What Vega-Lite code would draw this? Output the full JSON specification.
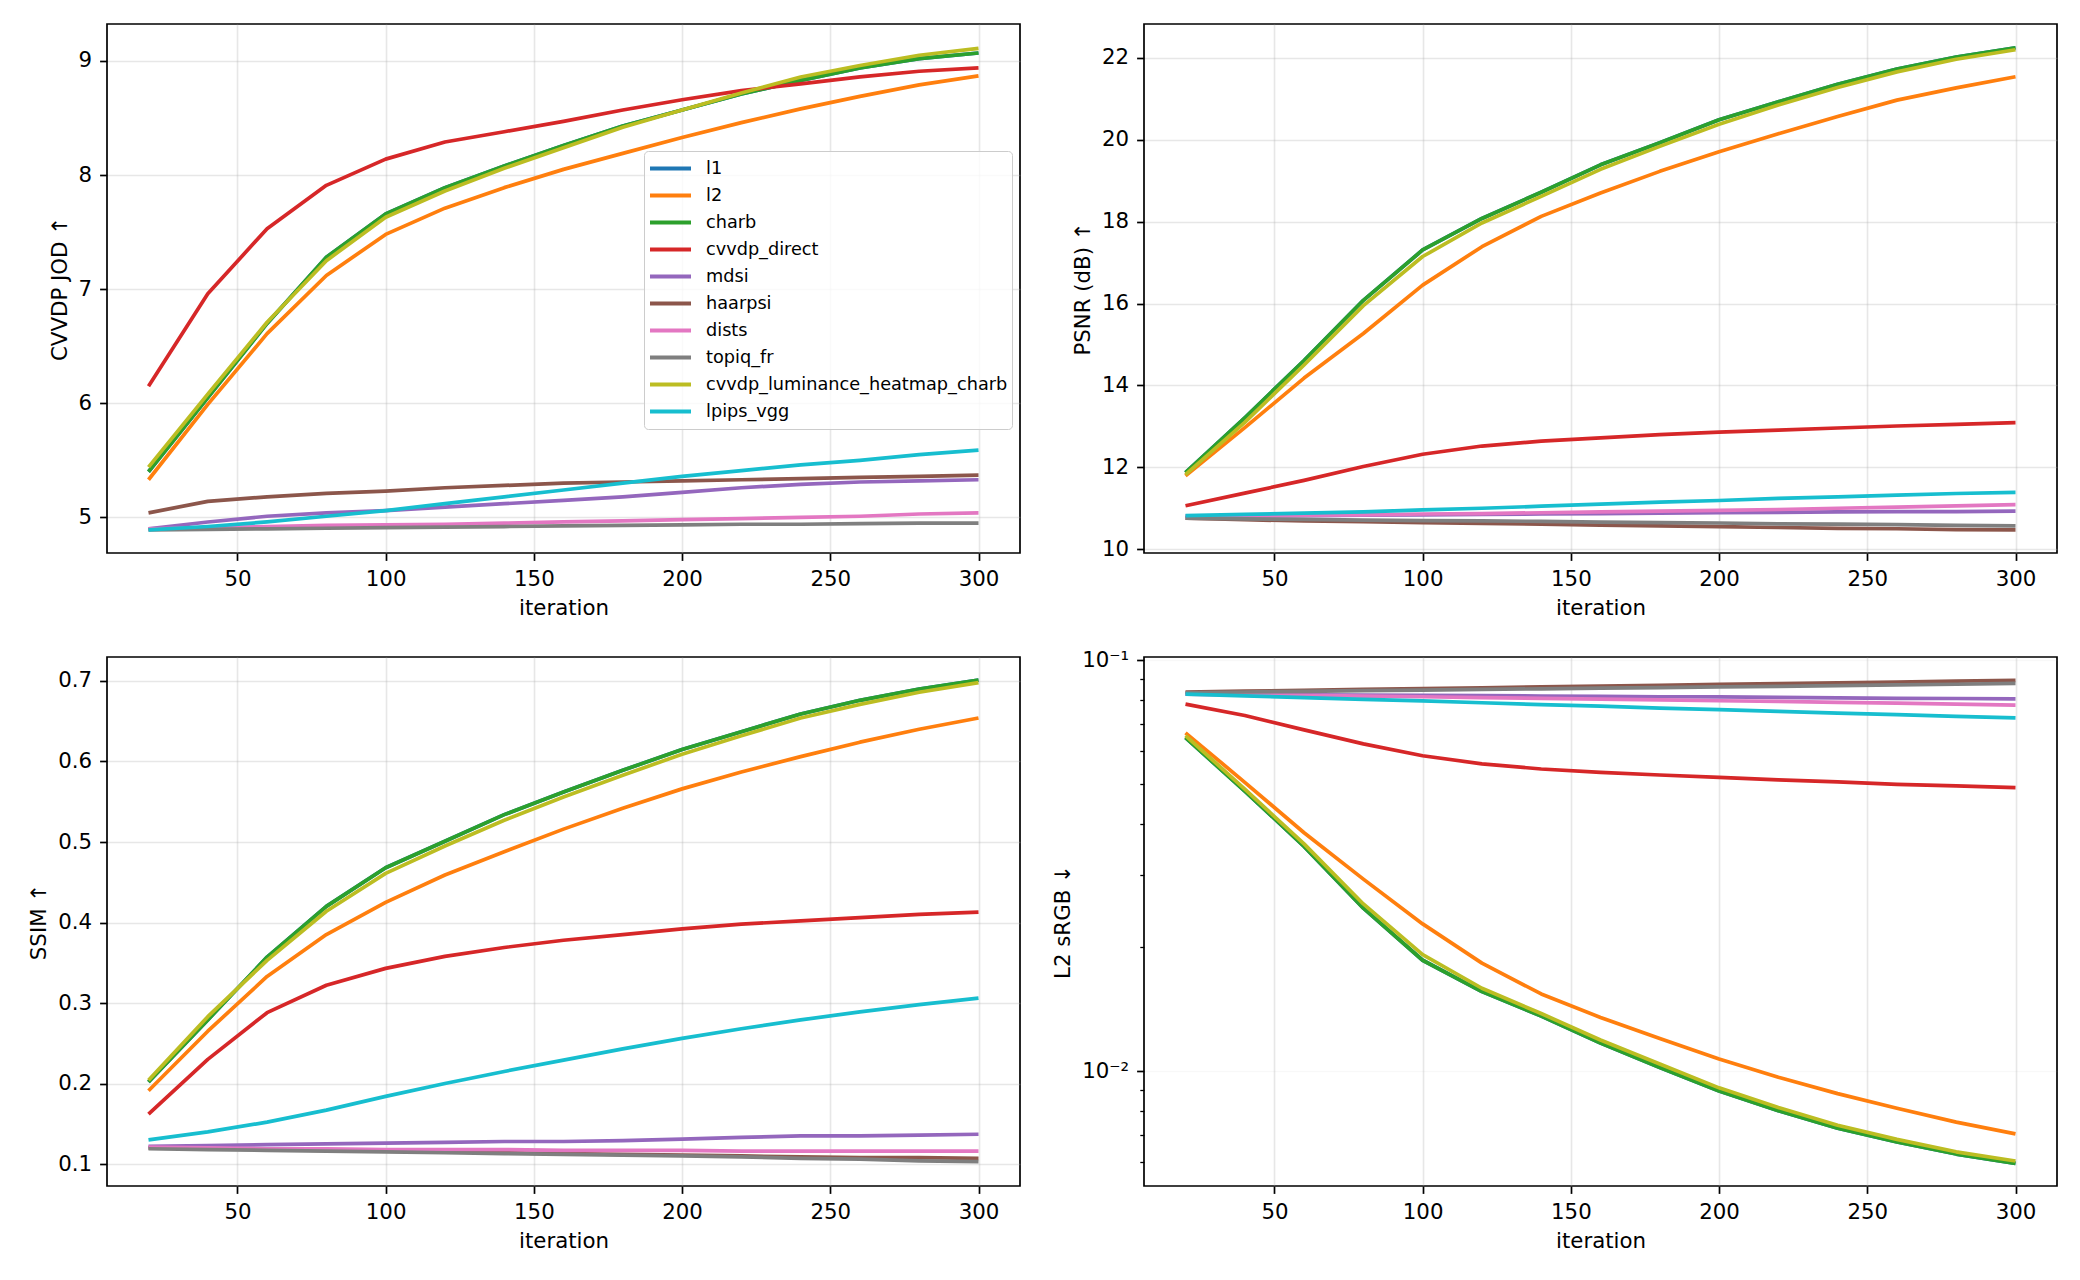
{
  "$schema": "https://vega.github.io/schema/vega-lite/v6.json",
  "background": "white",
  "padding": {"left": 27, "top": 23, "right": 10, "bottom": 10},
  "bounds": "flush",
  "columns": 2,
  "spacing": {"row": 104, "column": 124},
  "datasets": {
    "runs": [
      {"method":"l1","iteration":20,"jod":5.40,"psnr":11.87,"ssim":0.202,"l2":0.0647},
      {"method":"l1","iteration":40,"jod":6.05,"psnr":13.21,"ssim":0.279,"l2":0.0480},
      {"method":"l1","iteration":60,"jod":6.70,"psnr":14.61,"ssim":0.357,"l2":0.0352},
      {"method":"l1","iteration":80,"jod":7.28,"psnr":16.08,"ssim":0.420,"l2":0.0249},
      {"method":"l1","iteration":100,"jod":7.66,"psnr":17.31,"ssim":0.468,"l2":0.0186},
      {"method":"l1","iteration":120,"jod":7.89,"psnr":18.08,"ssim":0.501,"l2":0.0156},
      {"method":"l1","iteration":140,"jod":8.08,"psnr":18.72,"ssim":0.534,"l2":0.0136},
      {"method":"l1","iteration":160,"jod":8.26,"psnr":19.39,"ssim":0.562,"l2":0.0117},
      {"method":"l1","iteration":180,"jod":8.43,"psnr":19.93,"ssim":0.589,"l2":0.0102},
      {"method":"l1","iteration":200,"jod":8.57,"psnr":20.49,"ssim":0.615,"l2":0.00894},
      {"method":"l1","iteration":220,"jod":8.71,"psnr":20.93,"ssim":0.637,"l2":0.00801},
      {"method":"l1","iteration":240,"jod":8.83,"psnr":21.36,"ssim":0.659,"l2":0.00726},
      {"method":"l1","iteration":260,"jod":8.94,"psnr":21.73,"ssim":0.676,"l2":0.00672},
      {"method":"l1","iteration":280,"jod":9.02,"psnr":22.02,"ssim":0.690,"l2":0.00628},
      {"method":"l1","iteration":300,"jod":9.07,"psnr":22.25,"ssim":0.701,"l2":0.00596},

      {"method":"l2","iteration":20,"jod":5.33,"psnr":11.79,"ssim":0.191,"l2":0.0665},
      {"method":"l2","iteration":40,"jod":5.99,"psnr":12.97,"ssim":0.265,"l2":0.0504},
      {"method":"l2","iteration":60,"jod":6.61,"psnr":14.18,"ssim":0.333,"l2":0.0380},
      {"method":"l2","iteration":80,"jod":7.12,"psnr":15.27,"ssim":0.385,"l2":0.0293},
      {"method":"l2","iteration":100,"jod":7.48,"psnr":16.45,"ssim":0.425,"l2":0.0228},
      {"method":"l2","iteration":120,"jod":7.71,"psnr":17.39,"ssim":0.459,"l2":0.0183},
      {"method":"l2","iteration":140,"jod":7.89,"psnr":18.13,"ssim":0.488,"l2":0.0154},
      {"method":"l2","iteration":160,"jod":8.05,"psnr":18.70,"ssim":0.516,"l2":0.0135},
      {"method":"l2","iteration":180,"jod":8.19,"psnr":19.23,"ssim":0.542,"l2":0.0120},
      {"method":"l2","iteration":200,"jod":8.33,"psnr":19.71,"ssim":0.566,"l2":0.0107},
      {"method":"l2","iteration":220,"jod":8.46,"psnr":20.15,"ssim":0.587,"l2":0.00966},
      {"method":"l2","iteration":240,"jod":8.58,"psnr":20.57,"ssim":0.606,"l2":0.00881},
      {"method":"l2","iteration":260,"jod":8.69,"psnr":20.97,"ssim":0.624,"l2":0.00812},
      {"method":"l2","iteration":280,"jod":8.79,"psnr":21.27,"ssim":0.640,"l2":0.00751},
      {"method":"l2","iteration":300,"jod":8.87,"psnr":21.54,"ssim":0.654,"l2":0.00703},

      {"method":"charb","iteration":20,"jod":5.40,"psnr":11.87,"ssim":0.202,"l2":0.0647},
      {"method":"charb","iteration":40,"jod":6.05,"psnr":13.21,"ssim":0.279,"l2":0.0480},
      {"method":"charb","iteration":60,"jod":6.70,"psnr":14.61,"ssim":0.357,"l2":0.0352},
      {"method":"charb","iteration":80,"jod":7.28,"psnr":16.08,"ssim":0.420,"l2":0.0249},
      {"method":"charb","iteration":100,"jod":7.66,"psnr":17.31,"ssim":0.468,"l2":0.0186},
      {"method":"charb","iteration":120,"jod":7.89,"psnr":18.08,"ssim":0.501,"l2":0.0156},
      {"method":"charb","iteration":140,"jod":8.08,"psnr":18.72,"ssim":0.534,"l2":0.0136},
      {"method":"charb","iteration":160,"jod":8.26,"psnr":19.39,"ssim":0.562,"l2":0.0117},
      {"method":"charb","iteration":180,"jod":8.43,"psnr":19.93,"ssim":0.589,"l2":0.0102},
      {"method":"charb","iteration":200,"jod":8.57,"psnr":20.49,"ssim":0.615,"l2":0.00894},
      {"method":"charb","iteration":220,"jod":8.71,"psnr":20.93,"ssim":0.637,"l2":0.00801},
      {"method":"charb","iteration":240,"jod":8.83,"psnr":21.36,"ssim":0.659,"l2":0.00726},
      {"method":"charb","iteration":260,"jod":8.94,"psnr":21.73,"ssim":0.676,"l2":0.00672},
      {"method":"charb","iteration":280,"jod":9.02,"psnr":22.02,"ssim":0.690,"l2":0.00628},
      {"method":"charb","iteration":300,"jod":9.07,"psnr":22.25,"ssim":0.701,"l2":0.00596},

      {"method":"cvvdp_direct","iteration":20,"jod":6.15,"psnr":11.06,"ssim":0.162,"l2":0.0781},
      {"method":"cvvdp_direct","iteration":40,"jod":6.96,"psnr":11.37,"ssim":0.230,"l2":0.0733},
      {"method":"cvvdp_direct","iteration":60,"jod":7.53,"psnr":11.68,"ssim":0.288,"l2":0.0676},
      {"method":"cvvdp_direct","iteration":80,"jod":7.91,"psnr":12.02,"ssim":0.322,"l2":0.0625},
      {"method":"cvvdp_direct","iteration":100,"jod":8.14,"psnr":12.32,"ssim":0.343,"l2":0.0585},
      {"method":"cvvdp_direct","iteration":120,"jod":8.29,"psnr":12.52,"ssim":0.358,"l2":0.0559},
      {"method":"cvvdp_direct","iteration":140,"jod":8.38,"psnr":12.64,"ssim":0.369,"l2":0.0543},
      {"method":"cvvdp_direct","iteration":160,"jod":8.47,"psnr":12.72,"ssim":0.378,"l2":0.0533},
      {"method":"cvvdp_direct","iteration":180,"jod":8.57,"psnr":12.80,"ssim":0.385,"l2":0.0525},
      {"method":"cvvdp_direct","iteration":200,"jod":8.66,"psnr":12.86,"ssim":0.392,"l2":0.0518},
      {"method":"cvvdp_direct","iteration":220,"jod":8.74,"psnr":12.91,"ssim":0.398,"l2":0.0511},
      {"method":"cvvdp_direct","iteration":240,"jod":8.80,"psnr":12.96,"ssim":0.402,"l2":0.0505},
      {"method":"cvvdp_direct","iteration":260,"jod":8.86,"psnr":13.01,"ssim":0.406,"l2":0.0498},
      {"method":"cvvdp_direct","iteration":280,"jod":8.91,"psnr":13.05,"ssim":0.410,"l2":0.0494},
      {"method":"cvvdp_direct","iteration":300,"jod":8.94,"psnr":13.09,"ssim":0.413,"l2":0.0489},

      {"method":"mdsi","iteration":20,"jod":4.90,"psnr":10.80,"ssim":0.122,"l2":0.0826},
      {"method":"mdsi","iteration":40,"jod":4.96,"psnr":10.81,"ssim":0.123,"l2":0.0825},
      {"method":"mdsi","iteration":60,"jod":5.01,"psnr":10.82,"ssim":0.124,"l2":0.0823},
      {"method":"mdsi","iteration":80,"jod":5.04,"psnr":10.83,"ssim":0.125,"l2":0.0822},
      {"method":"mdsi","iteration":100,"jod":5.06,"psnr":10.84,"ssim":0.126,"l2":0.0820},
      {"method":"mdsi","iteration":120,"jod":5.09,"psnr":10.85,"ssim":0.127,"l2":0.0819},
      {"method":"mdsi","iteration":140,"jod":5.12,"psnr":10.86,"ssim":0.128,"l2":0.0817},
      {"method":"mdsi","iteration":160,"jod":5.15,"psnr":10.87,"ssim":0.128,"l2":0.0816},
      {"method":"mdsi","iteration":180,"jod":5.18,"psnr":10.88,"ssim":0.129,"l2":0.0814},
      {"method":"mdsi","iteration":200,"jod":5.22,"psnr":10.89,"ssim":0.131,"l2":0.0813},
      {"method":"mdsi","iteration":220,"jod":5.26,"psnr":10.90,"ssim":0.133,"l2":0.0811},
      {"method":"mdsi","iteration":240,"jod":5.29,"psnr":10.91,"ssim":0.135,"l2":0.0809},
      {"method":"mdsi","iteration":260,"jod":5.31,"psnr":10.92,"ssim":0.135,"l2":0.0807},
      {"method":"mdsi","iteration":280,"jod":5.32,"psnr":10.92,"ssim":0.136,"l2":0.0806},
      {"method":"mdsi","iteration":300,"jod":5.33,"psnr":10.93,"ssim":0.137,"l2":0.0804},

      {"method":"haarpsi","iteration":20,"jod":5.04,"psnr":10.76,"ssim":0.120,"l2":0.0835},
      {"method":"haarpsi","iteration":40,"jod":5.14,"psnr":10.72,"ssim":0.119,"l2":0.0840},
      {"method":"haarpsi","iteration":60,"jod":5.18,"psnr":10.69,"ssim":0.118,"l2":0.0844},
      {"method":"haarpsi","iteration":80,"jod":5.21,"psnr":10.67,"ssim":0.117,"l2":0.0848},
      {"method":"haarpsi","iteration":100,"jod":5.23,"psnr":10.65,"ssim":0.116,"l2":0.0852},
      {"method":"haarpsi","iteration":120,"jod":5.26,"psnr":10.63,"ssim":0.115,"l2":0.0856},
      {"method":"haarpsi","iteration":140,"jod":5.28,"psnr":10.61,"ssim":0.114,"l2":0.0860},
      {"method":"haarpsi","iteration":160,"jod":5.30,"psnr":10.59,"ssim":0.113,"l2":0.0864},
      {"method":"haarpsi","iteration":180,"jod":5.31,"psnr":10.57,"ssim":0.112,"l2":0.0868},
      {"method":"haarpsi","iteration":200,"jod":5.32,"psnr":10.55,"ssim":0.111,"l2":0.0872},
      {"method":"haarpsi","iteration":220,"jod":5.33,"psnr":10.53,"ssim":0.110,"l2":0.0876},
      {"method":"haarpsi","iteration":240,"jod":5.34,"psnr":10.51,"ssim":0.109,"l2":0.0880},
      {"method":"haarpsi","iteration":260,"jod":5.35,"psnr":10.50,"ssim":0.108,"l2":0.0884},
      {"method":"haarpsi","iteration":280,"jod":5.36,"psnr":10.48,"ssim":0.108,"l2":0.0888},
      {"method":"haarpsi","iteration":300,"jod":5.37,"psnr":10.47,"ssim":0.107,"l2":0.0892},

      {"method":"dists","iteration":20,"jod":4.90,"psnr":10.80,"ssim":0.121,"l2":0.0826},
      {"method":"dists","iteration":40,"jod":4.91,"psnr":10.81,"ssim":0.120,"l2":0.0823},
      {"method":"dists","iteration":60,"jod":4.92,"psnr":10.83,"ssim":0.119,"l2":0.0820},
      {"method":"dists","iteration":80,"jod":4.93,"psnr":10.84,"ssim":0.119,"l2":0.0817},
      {"method":"dists","iteration":100,"jod":4.935,"psnr":10.86,"ssim":0.118,"l2":0.0814},
      {"method":"dists","iteration":120,"jod":4.94,"psnr":10.87,"ssim":0.118,"l2":0.0810},
      {"method":"dists","iteration":140,"jod":4.95,"psnr":10.89,"ssim":0.118,"l2":0.0807},
      {"method":"dists","iteration":160,"jod":4.96,"psnr":10.91,"ssim":0.117,"l2":0.0803},
      {"method":"dists","iteration":180,"jod":4.97,"psnr":10.93,"ssim":0.117,"l2":0.0800},
      {"method":"dists","iteration":200,"jod":4.98,"psnr":10.95,"ssim":0.117,"l2":0.0796},
      {"method":"dists","iteration":220,"jod":4.99,"psnr":10.97,"ssim":0.116,"l2":0.0793},
      {"method":"dists","iteration":240,"jod":5.00,"psnr":11.00,"ssim":0.116,"l2":0.0789},
      {"method":"dists","iteration":260,"jod":5.01,"psnr":11.03,"ssim":0.116,"l2":0.0785},
      {"method":"dists","iteration":280,"jod":5.03,"psnr":11.06,"ssim":0.116,"l2":0.0781},
      {"method":"dists","iteration":300,"jod":5.04,"psnr":11.09,"ssim":0.116,"l2":0.0777},

      {"method":"topiq_fr","iteration":20,"jod":4.89,"psnr":10.76,"ssim":0.119,"l2":0.0832},
      {"method":"topiq_fr","iteration":40,"jod":4.895,"psnr":10.74,"ssim":0.118,"l2":0.0836},
      {"method":"topiq_fr","iteration":60,"jod":4.90,"psnr":10.73,"ssim":0.117,"l2":0.0839},
      {"method":"topiq_fr","iteration":80,"jod":4.905,"psnr":10.71,"ssim":0.116,"l2":0.0842},
      {"method":"topiq_fr","iteration":100,"jod":4.91,"psnr":10.70,"ssim":0.115,"l2":0.0845},
      {"method":"topiq_fr","iteration":120,"jod":4.915,"psnr":10.69,"ssim":0.114,"l2":0.0848},
      {"method":"topiq_fr","iteration":140,"jod":4.92,"psnr":10.68,"ssim":0.113,"l2":0.0851},
      {"method":"topiq_fr","iteration":160,"jod":4.925,"psnr":10.66,"ssim":0.112,"l2":0.0854},
      {"method":"topiq_fr","iteration":180,"jod":4.93,"psnr":10.65,"ssim":0.111,"l2":0.0857},
      {"method":"topiq_fr","iteration":200,"jod":4.935,"psnr":10.64,"ssim":0.110,"l2":0.0860},
      {"method":"topiq_fr","iteration":220,"jod":4.94,"psnr":10.62,"ssim":0.109,"l2":0.0863},
      {"method":"topiq_fr","iteration":240,"jod":4.94,"psnr":10.61,"ssim":0.107,"l2":0.0866},
      {"method":"topiq_fr","iteration":260,"jod":4.945,"psnr":10.60,"ssim":0.106,"l2":0.0870},
      {"method":"topiq_fr","iteration":280,"jod":4.95,"psnr":10.58,"ssim":0.104,"l2":0.0873},
      {"method":"topiq_fr","iteration":300,"jod":4.95,"psnr":10.57,"ssim":0.103,"l2":0.0877},

      {"method":"cvvdp_luminance_heatmap_charb","iteration":20,"jod":5.44,"psnr":11.82,"ssim":0.204,"l2":0.0655},
      {"method":"cvvdp_luminance_heatmap_charb","iteration":40,"jod":6.08,"psnr":13.10,"ssim":0.283,"l2":0.0485},
      {"method":"cvvdp_luminance_heatmap_charb","iteration":60,"jod":6.71,"psnr":14.50,"ssim":0.353,"l2":0.0357},
      {"method":"cvvdp_luminance_heatmap_charb","iteration":80,"jod":7.25,"psnr":15.95,"ssim":0.414,"l2":0.0255},
      {"method":"cvvdp_luminance_heatmap_charb","iteration":100,"jod":7.63,"psnr":17.15,"ssim":0.461,"l2":0.0192},
      {"method":"cvvdp_luminance_heatmap_charb","iteration":120,"jod":7.86,"psnr":17.97,"ssim":0.495,"l2":0.0159},
      {"method":"cvvdp_luminance_heatmap_charb","iteration":140,"jod":8.06,"psnr":18.62,"ssim":0.527,"l2":0.0138},
      {"method":"cvvdp_luminance_heatmap_charb","iteration":160,"jod":8.24,"psnr":19.28,"ssim":0.556,"l2":0.0119},
      {"method":"cvvdp_luminance_heatmap_charb","iteration":180,"jod":8.42,"psnr":19.84,"ssim":0.583,"l2":0.0104},
      {"method":"cvvdp_luminance_heatmap_charb","iteration":200,"jod":8.57,"psnr":20.38,"ssim":0.609,"l2":0.0091},
      {"method":"cvvdp_luminance_heatmap_charb","iteration":220,"jod":8.72,"psnr":20.85,"ssim":0.632,"l2":0.00815},
      {"method":"cvvdp_luminance_heatmap_charb","iteration":240,"jod":8.86,"psnr":21.28,"ssim":0.654,"l2":0.00738},
      {"method":"cvvdp_luminance_heatmap_charb","iteration":260,"jod":8.96,"psnr":21.66,"ssim":0.671,"l2":0.00682},
      {"method":"cvvdp_luminance_heatmap_charb","iteration":280,"jod":9.05,"psnr":21.97,"ssim":0.686,"l2":0.00636},
      {"method":"cvvdp_luminance_heatmap_charb","iteration":300,"jod":9.11,"psnr":22.20,"ssim":0.698,"l2":0.00604},

      {"method":"lpips_vgg","iteration":20,"jod":4.89,"psnr":10.82,"ssim":0.130,"l2":0.0826},
      {"method":"lpips_vgg","iteration":40,"jod":4.92,"psnr":10.85,"ssim":0.140,"l2":0.0818},
      {"method":"lpips_vgg","iteration":60,"jod":4.96,"psnr":10.88,"ssim":0.152,"l2":0.0810},
      {"method":"lpips_vgg","iteration":80,"jod":5.01,"psnr":10.91,"ssim":0.167,"l2":0.0802},
      {"method":"lpips_vgg","iteration":100,"jod":5.06,"psnr":10.96,"ssim":0.184,"l2":0.0795},
      {"method":"lpips_vgg","iteration":120,"jod":5.12,"psnr":11.00,"ssim":0.200,"l2":0.0787},
      {"method":"lpips_vgg","iteration":140,"jod":5.18,"psnr":11.05,"ssim":0.215,"l2":0.0779},
      {"method":"lpips_vgg","iteration":160,"jod":5.24,"psnr":11.10,"ssim":0.229,"l2":0.0772},
      {"method":"lpips_vgg","iteration":180,"jod":5.30,"psnr":11.15,"ssim":0.243,"l2":0.0764},
      {"method":"lpips_vgg","iteration":200,"jod":5.36,"psnr":11.19,"ssim":0.256,"l2":0.0757},
      {"method":"lpips_vgg","iteration":220,"jod":5.41,"psnr":11.24,"ssim":0.268,"l2":0.0750},
      {"method":"lpips_vgg","iteration":240,"jod":5.46,"psnr":11.28,"ssim":0.279,"l2":0.0743},
      {"method":"lpips_vgg","iteration":260,"jod":5.50,"psnr":11.32,"ssim":0.289,"l2":0.0736},
      {"method":"lpips_vgg","iteration":280,"jod":5.55,"psnr":11.36,"ssim":0.298,"l2":0.0729},
      {"method":"lpips_vgg","iteration":300,"jod":5.59,"psnr":11.39,"ssim":0.306,"l2":0.0723}
    ]
  },
  "concat": [
    {
      "data": {"name": "runs"},
      "width": 913,
      "height": 529,
      "mark": {"type": "line", "strokeWidth": 3.7, "strokeJoin": "round"},
      "encoding": {
        "x": {"field": "iteration", "type": "quantitative", "scale": {"domain": [6, 314], "nice": false, "zero": false}, "axis": {"values": [50, 100, 150, 200, 250, 300], "title": "iteration"}},
        "y": {"field": "jod", "type": "quantitative", "scale": {"domain": [4.688, 9.324], "nice": false, "zero": false}, "axis": {"values": [5, 6, 7, 8, 9], "title": "CVVDP JOD ↑"}},
        "color": {
          "field": "method", "type": "nominal",
          "scale": {"domain": ["l1", "l2", "charb", "cvvdp_direct", "mdsi", "haarpsi", "dists", "topiq_fr", "cvvdp_luminance_heatmap_charb", "lpips_vgg"], "range": ["#1f77b4", "#ff7f0e", "#2ca02c", "#d62728", "#9467bd", "#8c564b", "#e377c2", "#7f7f7f", "#bcbd22", "#17becf"]},
          "legend": {
            "orient": "none", "legendX": 537, "legendY": 127, "title": null,
            "symbolType": "stroke", "symbolSize": 1681, "symbolStrokeWidth": 4,
            "labelFont": "DejaVu Sans", "labelFontSize": 17.7, "labelColor": "black", "labelOffset": 13, "labelLimit": 500,
            "clipHeight": 27, "rowPadding": 0, "padding": 4,
            "fillColor": "rgba(255,255,255,0.8)", "strokeColor": "#cccccc", "cornerRadius": 4
          }
        }
      }
    },
    {
      "data": {"name": "runs"},
      "width": 913,
      "height": 529,
      "mark": {"type": "line", "strokeWidth": 3.7, "strokeJoin": "round"},
      "encoding": {
        "x": {"field": "iteration", "type": "quantitative", "scale": {"domain": [6, 314], "nice": false, "zero": false}, "axis": {"values": [50, 100, 150, 200, 250, 300], "title": "iteration"}},
        "y": {"field": "psnr", "type": "quantitative", "scale": {"domain": [9.907, 22.83], "nice": false, "zero": false}, "axis": {"values": [10, 12, 14, 16, 18, 20, 22], "title": "PSNR (dB) ↑"}},
        "color": {
          "field": "method", "type": "nominal",
          "scale": {"domain": ["l1", "l2", "charb", "cvvdp_direct", "mdsi", "haarpsi", "dists", "topiq_fr", "cvvdp_luminance_heatmap_charb", "lpips_vgg"], "range": ["#1f77b4", "#ff7f0e", "#2ca02c", "#d62728", "#9467bd", "#8c564b", "#e377c2", "#7f7f7f", "#bcbd22", "#17becf"]},
          "legend": null
        }
      }
    },
    {
      "data": {"name": "runs"},
      "width": 913,
      "height": 529,
      "mark": {"type": "line", "strokeWidth": 3.7, "strokeJoin": "round"},
      "encoding": {
        "x": {"field": "iteration", "type": "quantitative", "scale": {"domain": [6, 314], "nice": false, "zero": false}, "axis": {"values": [50, 100, 150, 200, 250, 300], "title": "iteration"}},
        "y": {"field": "ssim", "type": "quantitative", "scale": {"domain": [0.0727, 0.7298], "nice": false, "zero": false}, "axis": {"values": [0.1, 0.2, 0.3, 0.4, 0.5, 0.6, 0.7], "title": "SSIM ↑"}},
        "color": {
          "field": "method", "type": "nominal",
          "scale": {"domain": ["l1", "l2", "charb", "cvvdp_direct", "mdsi", "haarpsi", "dists", "topiq_fr", "cvvdp_luminance_heatmap_charb", "lpips_vgg"], "range": ["#1f77b4", "#ff7f0e", "#2ca02c", "#d62728", "#9467bd", "#8c564b", "#e377c2", "#7f7f7f", "#bcbd22", "#17becf"]},
          "legend": null
        }
      }
    },
    {
      "data": {"name": "runs"},
      "width": 913,
      "height": 529,
      "mark": {"type": "line", "strokeWidth": 3.7, "strokeJoin": "round"},
      "encoding": {
        "x": {"field": "iteration", "type": "quantitative", "scale": {"domain": [6, 314], "nice": false, "zero": false}, "axis": {"values": [50, 100, 150, 200, 250, 300], "title": "iteration"}},
        "y": {
          "field": "l2", "type": "quantitative",
          "scale": {"type": "log", "domain": [0.005251, 0.1017], "nice": false},
          "axis": {
            "title": "L2 sRGB ↓",
            "values": [0.006, 0.007, 0.008, 0.009, 0.01, 0.02, 0.03, 0.04, 0.05, 0.06, 0.07, 0.08, 0.09, 0.1],
            "labelExpr": "datum.value == 0.1 ? '10⁻¹' : datum.value == 0.01 ? '10⁻²' : ''",
            "tickSize": {"condition": {"test": "datum.value == 0.1 || datum.value == 0.01", "value": 7.4}, "value": 4.2},
            "tickWidth": {"condition": {"test": "datum.value == 0.1 || datum.value == 0.01", "value": 1.7}, "value": 1.3},
            "gridOpacity": {"condition": {"test": "datum.value == 0.1 || datum.value == 0.01", "value": 0.3}, "value": 0}
          }
        },
        "color": {
          "field": "method", "type": "nominal",
          "scale": {"domain": ["l1", "l2", "charb", "cvvdp_direct", "mdsi", "haarpsi", "dists", "topiq_fr", "cvvdp_luminance_heatmap_charb", "lpips_vgg"], "range": ["#1f77b4", "#ff7f0e", "#2ca02c", "#d62728", "#9467bd", "#8c564b", "#e377c2", "#7f7f7f", "#bcbd22", "#17becf"]},
          "legend": null
        }
      }
    }
  ],
  "resolve": {
    "scale": {"x": "independent", "y": "independent", "color": "independent"},
    "legend": {"color": "independent"}
  },
  "config": {
    "font": "DejaVu Sans",
    "view": {"stroke": "black", "strokeWidth": 1.7},
    "axis": {
      "domain": false,
      "grid": true,
      "gridColor": "#b0b0b0",
      "gridOpacity": 0.3,
      "gridWidth": 1.6,
      "tickColor": "black",
      "tickSize": 7.4,
      "tickWidth": 1.7,
      "labelFont": "DejaVu Sans",
      "labelFontSize": 21.3,
      "labelColor": "black",
      "labelPadding": 8,
      "titleFont": "DejaVu Sans",
      "titleFontSize": 21.3,
      "titleFontWeight": "normal",
      "titleColor": "black",
      "titlePadding": 8
    }
  }
}
